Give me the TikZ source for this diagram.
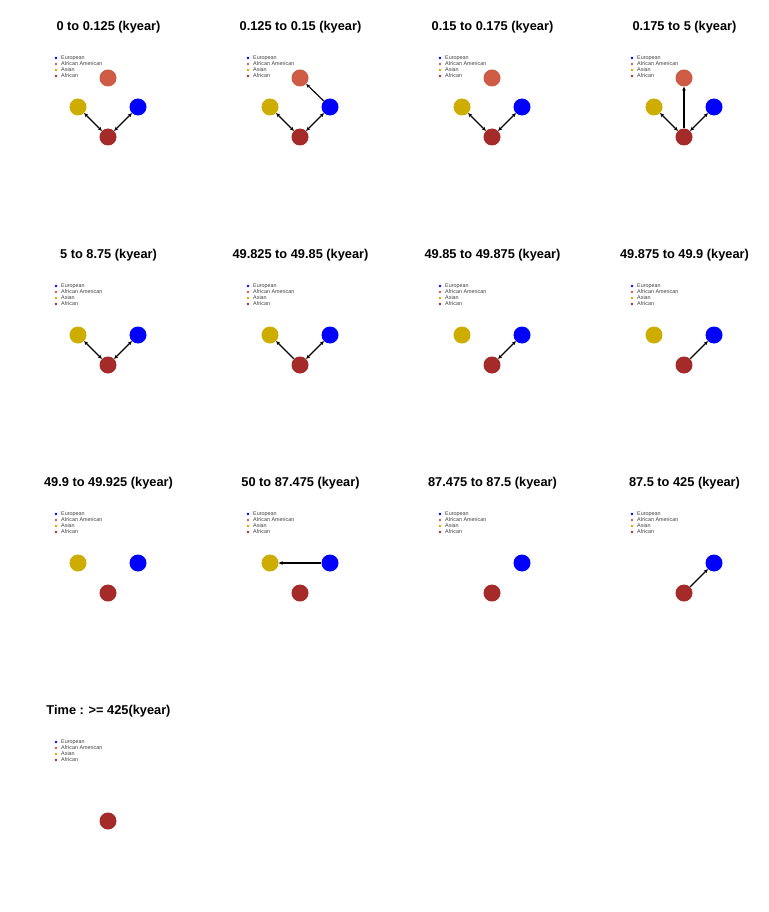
\documentclass[tikz,border=0pt]{standalone}
\usepackage{fontspec}
\setmainfont{Liberation Sans}
\newfontfamily\ttlfont{Liberation Sans Bold}
\usetikzlibrary{arrows.meta}
\definecolor{cEu}{RGB}{0,0,255}
\definecolor{cAA}{RGB}{205,91,69}
\definecolor{cAs}{RGB}{205,173,0}
\definecolor{cAf}{RGB}{165,42,42}
\tikzset{
  pop/.style={circle,minimum size=17pt,inner sep=0pt,draw=none},
  eu/.style={pop,fill=cEu},
  aa/.style={pop,fill=cAA},
  as/.style={pop,fill=cAs},
  af/.style={pop,fill=cAf},
  ttl/.style={font=\ttlfont\fontsize{12.8}{14}\selectfont},
  lgtxt/.style={anchor=west,inner sep=0pt,font=\fontsize{5.4}{6}\selectfont,text=black!75},
  one/.style={draw=black,line width=1.1pt,-{Stealth[length=4pt,width=3.6pt]}},
  two/.style={draw=black,line width=1.1pt,{Stealth[length=4pt,width=3.6pt]}-{Stealth[length=4pt,width=3.6pt]}}
}
\newcommand{\mylegend}[1]{%
  \fill[cEu] (56,58) circle (1.3);
  \fill[cAA] (56,64) circle (1.3);
  \fill[cAs] (56,70) circle (1.3);
  \fill[cAf] (56,76) circle (1.3);
  \node[lgtxt] (#1l1) at (61,58) {European};
  \node[lgtxt] (#1l2) at (61,64) {African American};
  \node[lgtxt] (#1l3) at (61,70) {Asian};
  \node[lgtxt] (#1l4) at (61,76) {African};
}
\begin{document}
\begin{tikzpicture}[x=1pt,y=-1pt]
\useasboundingbox[fill=white] (0,0) rectangle (768,912);
% ---------- Row 1 ----------
\begin{scope}[shift={(0,0)}]
  \node[ttl] (t1) at (108.5,27.5) {0 to 0.125 (kyear)};
  \mylegend{p1}
  \node[aa] (p1aa) at (108,78) {};
  \node[as] (p1as) at (78,107) {};
  \node[eu] (p1eu) at (138,107) {};
  \node[af] (p1af) at (108,137) {};
  \draw[two] (p1af) -- (p1as);
  \draw[two] (p1af) -- (p1eu);
\end{scope}
\begin{scope}[shift={(192,0)}]
  \node[ttl] (t2) at (108.5,27.5) {0.125 to 0.15 (kyear)};
  \mylegend{p2}
  \node[aa] (p2aa) at (108,78) {};
  \node[as] (p2as) at (78,107) {};
  \node[eu] (p2eu) at (138,107) {};
  \node[af] (p2af) at (108,137) {};
  \draw[two] (p2af) -- (p2as);
  \draw[two] (p2af) -- (p2eu);
  \draw[one] (p2eu) -- (p2aa);
\end{scope}
\begin{scope}[shift={(384,0)}]
  \node[ttl] (t3) at (108.5,27.5) {0.15 to 0.175 (kyear)};
  \mylegend{p3}
  \node[aa] (p3aa) at (108,78) {};
  \node[as] (p3as) at (78,107) {};
  \node[eu] (p3eu) at (138,107) {};
  \node[af] (p3af) at (108,137) {};
  \draw[two] (p3af) -- (p3as);
  \draw[two] (p3af) -- (p3eu);
\end{scope}
\begin{scope}[shift={(576,0)}]
  \node[ttl] (t4) at (108.5,27.5) {0.175 to 5 (kyear)};
  \mylegend{p4}
  \node[aa] (p4aa) at (108,78) {};
  \node[as] (p4as) at (78,107) {};
  \node[eu] (p4eu) at (138,107) {};
  \node[af] (p4af) at (108,137) {};
  \draw[two] (p4af) -- (p4as);
  \draw[two] (p4af) -- (p4eu);
  \draw[one] (p4af) -- (p4aa);
\end{scope}
% ---------- Row 2 ----------
\begin{scope}[shift={(0,228)}]
  \node[ttl] (t5) at (108.5,27.5) {5 to 8.75 (kyear)};
  \mylegend{p5}
  \node[as] (p5as) at (78,107) {};
  \node[eu] (p5eu) at (138,107) {};
  \node[af] (p5af) at (108,137) {};
  \draw[two] (p5af) -- (p5as);
  \draw[two] (p5af) -- (p5eu);
\end{scope}
\begin{scope}[shift={(192,228)}]
  \node[ttl] (t6) at (108.5,27.5) {49.825 to 49.85 (kyear)};
  \mylegend{p6}
  \node[as] (p6as) at (78,107) {};
  \node[eu] (p6eu) at (138,107) {};
  \node[af] (p6af) at (108,137) {};
  \draw[one] (p6af) -- (p6as);
  \draw[two] (p6af) -- (p6eu);
\end{scope}
\begin{scope}[shift={(384,228)}]
  \node[ttl] (t7) at (108.5,27.5) {49.85 to 49.875 (kyear)};
  \mylegend{p7}
  \node[as] (p7as) at (78,107) {};
  \node[eu] (p7eu) at (138,107) {};
  \node[af] (p7af) at (108,137) {};
  \draw[two] (p7af) -- (p7eu);
\end{scope}
\begin{scope}[shift={(576,228)}]
  \node[ttl] (t8) at (108.5,27.5) {49.875 to 49.9 (kyear)};
  \mylegend{p8}
  \node[as] (p8as) at (78,107) {};
  \node[eu] (p8eu) at (138,107) {};
  \node[af] (p8af) at (108,137) {};
  \draw[one] (p8af) -- (p8eu);
\end{scope}
% ---------- Row 3 ----------
\begin{scope}[shift={(0,456)}]
  \node[ttl] (t9) at (108.5,27.5) {49.9 to 49.925 (kyear)};
  \mylegend{p9}
  \node[as] (p9as) at (78,107) {};
  \node[eu] (p9eu) at (138,107) {};
  \node[af] (p9af) at (108,137) {};
\end{scope}
\begin{scope}[shift={(192,456)}]
  \node[ttl] (t10) at (108.5,27.5) {50 to 87.475 (kyear)};
  \mylegend{p10}
  \node[as] (p10as) at (78,107) {};
  \node[eu] (p10eu) at (138,107) {};
  \node[af] (p10af) at (108,137) {};
  \draw[one] (p10eu) -- (p10as);
\end{scope}
\begin{scope}[shift={(384,456)}]
  \node[ttl] (t11) at (108.5,27.5) {87.475 to 87.5 (kyear)};
  \mylegend{p11}
  \node[eu] (p11eu) at (138,107) {};
  \node[af] (p11af) at (108,137) {};
\end{scope}
\begin{scope}[shift={(576,456)}]
  \node[ttl] (t12) at (108.5,27.5) {87.5 to 425 (kyear)};
  \mylegend{p12}
  \node[eu] (p12eu) at (138,107) {};
  \node[af] (p12af) at (108,137) {};
  \draw[one] (p12af) -- (p12eu);
\end{scope}
% ---------- Row 4 ----------
\begin{scope}[shift={(0,684)}]
  \node[ttl] (t13) at (108.5,27.5) {Time : >= 425(kyear)};
  \mylegend{p13}
  \node[af] (p13af) at (108,137) {};
\end{scope}
\end{tikzpicture}
\end{document}
